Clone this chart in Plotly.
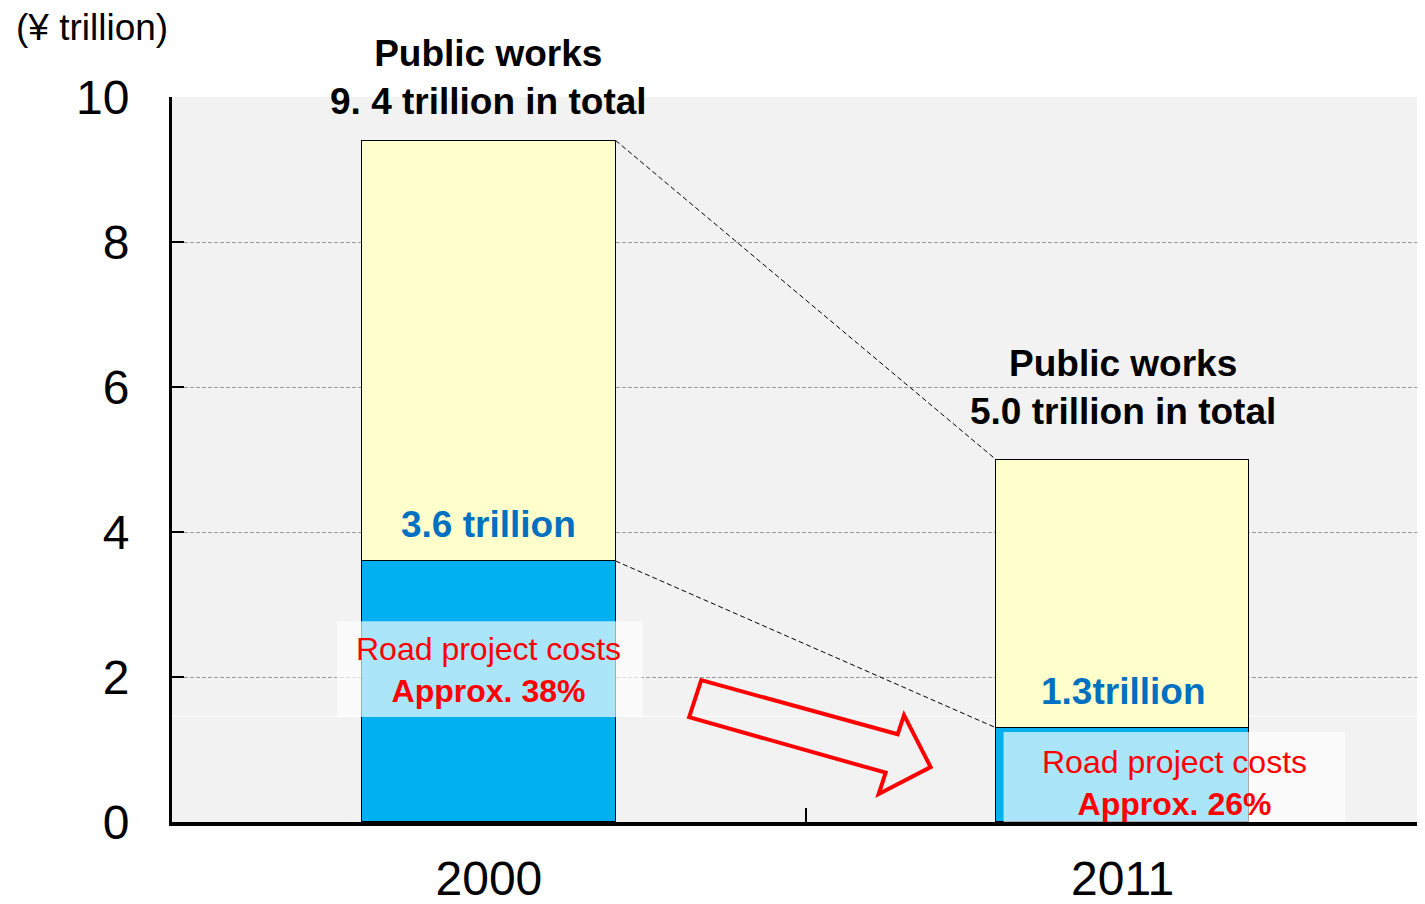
import plotly.graph_objects as go

categories = ["2000", "2011"]
road_costs = [3.6, 1.3]          # ¥ trillion
other_works = [5.8, 3.7]         # ¥ trillion (total - road)
totals = [9.4, 5.0]
total_labels = ["Public works<br>9. 4 trillion in total", "Public works<br>5.0 trillion in total"]
road_labels = ["3.6 trillion", "1.3trillion"]
share_labels = ["Road project costs<br><b>Approx. 38%</b>", "Road project costs<br><b>Approx. 26%</b>"]
y_ticks = [0, 2, 4, 6, 8, 10]

FONT = "Arial, 'Liberation Sans', sans-serif"
BLUE = "#00b0f0"
YELLOW = "#ffffcc"
LBLUE = "#0070c0"
RED = "#ff0000"

xs = list(range(len(categories)))
bw = 0.4
YMAX = 10

fig = go.Figure()
fig.add_trace(go.Bar(x=xs, y=road_costs, width=bw, marker=dict(color=BLUE, line=dict(color="black", width=1)),
                     hoverinfo="skip"))
fig.add_trace(go.Bar(x=xs, y=other_works, width=bw, marker=dict(color=YELLOW, line=dict(color="black", width=1)),
                     hoverinfo="skip"))

shapes = []
# faint white artifact line
shapes.append(dict(type="line", xref="paper", yref="y", x0=0, x1=1, y0=1.46, y1=1.46,
                   line=dict(color="white", width=1), layer="below"))
# dashed connectors between bars
for a, b in [(totals[0], totals[1]), (road_costs[0], road_costs[1])]:
    shapes.append(dict(type="line", xref="x", yref="y", x0=xs[0] + bw / 2, x1=xs[1] - bw / 2, y0=a, y1=b,
                       line=dict(color="black", width=1, dash="5px,3px")))
# translucent boxes for road project cost labels
box_specs = [(-0.24, 0.242, 1.45, 2.77), (0.812, 1.351, -0.04, 1.24)]
for x0, x1, y0, y1 in box_specs:
    shapes.append(dict(type="rect", xref="x", yref="y", x0=x0, x1=x1, y0=y0, y1=y1,
                       fillcolor="rgba(255,255,255,0.67)", line=dict(width=0)))
# red outlined arrow
arrow = [(0.335, 1.956), (0.645, 1.21), (0.655, 1.474), (0.697, 0.758), (0.615, 0.386), (0.626, 0.68), (0.316, 1.446)]
path = "M " + " L ".join(f"{x},{y}" for x, y in arrow) + " Z"
shapes.append(dict(type="path", xref="x", yref="y", path=path, line=dict(color=RED, width=4),
                   fillcolor="rgba(0,0,0,0)"))

annotations = []
title_offsets = [0.87, 1.0]
for i in xs:
    annotations.append(dict(x=xs[i], y=(totals[i] + title_offsets[i]) / YMAX, xref="x", yref="paper",
                            xanchor="center", yanchor="middle",
                            text=f"<b>{total_labels[i]}</b>",
                            showarrow=False, font=dict(family=FONT, size=37, color="black")))
road_label_y = [4.1, 1.8]
for i in xs:
    annotations.append(dict(x=xs[i], y=road_label_y[i], xref="x", yref="y", text=f"<b>{road_labels[i]}</b>",
                            xanchor="center", yanchor="middle",
                            showarrow=False, font=dict(family=FONT, size=37, color=LBLUE)))
share_pos = [(0.0, 2.09), (1.082, 0.54)]
for i in xs:
    annotations.append(dict(x=share_pos[i][0], y=share_pos[i][1], xref="x", yref="y", text=share_labels[i],
                            xanchor="center", yanchor="middle",
                            showarrow=False, font=dict(family=FONT, size=32, color=RED)))
annotations.append(dict(x=-0.126, y=1.096, xref="paper", yref="paper", xanchor="left", yanchor="middle",
                        text="(¥ trillion)", showarrow=False, font=dict(family=FONT, size=37, color="black")))

fig.update_layout(
    width=1417, height=896,
    margin=dict(l=164, r=0, t=89, b=82, autoexpand=False),
    paper_bgcolor="white", plot_bgcolor="#f2f2f2",
    barmode="stack", bargap=0, showlegend=False,
    font=dict(family=FONT, color="black"),
    shapes=shapes, annotations=annotations,
    xaxis=dict(range=[-0.5, 1.477], tickmode="array", tickvals=xs, ticktext=categories, automargin=False,
               ticks="", showgrid=False, zeroline=False, showline=True, linecolor="black", linewidth=4,
               tickfont=dict(size=48), ticklabelstandoff=11,
               minor=dict(tickmode="array", tickvals=[0.5], ticks="inside", ticklen=14, tickwidth=2, tickcolor="black")),
    yaxis=dict(range=[0, YMAX], tickmode="array", tickvals=y_ticks, ticks="inside", ticklen=12, tickwidth=2,
               automargin=False,
               tickcolor="black", showgrid=True, gridcolor="#999999", griddash="4px,2px", gridwidth=1,
               zeroline=False, showline=True, linecolor="black", linewidth=3,
               tickfont=dict(size=48), ticklabelstandoff=30),
)

fig.write_html("out.html")
